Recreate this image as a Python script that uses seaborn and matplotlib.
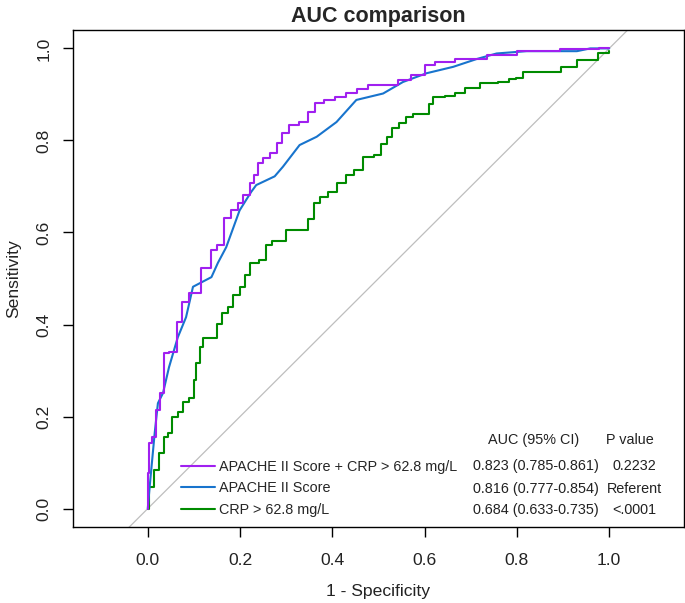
import numpy as np
import pandas as pd
import seaborn as sns
import matplotlib
matplotlib.use("Agg")
import matplotlib.pyplot as plt

# ROC points (1 - specificity, sensitivity)
combo_fpr = [0.0, 0.0, 0.005, 0.015, 0.022, 0.033, 0.036, 0.058, 0.069, 0.080, 0.098, 0.134,
             0.140, 0.159, 0.170, 0.192, 0.199, 0.214, 0.227, 0.232, 0.246, 0.253, 0.275,
             0.286, 0.297, 0.314, 0.340, 0.355, 0.368, 0.394, 0.416, 0.441, 0.466, 0.488,
             0.531, 0.553, 0.590, 0.611, 0.633, 0.698, 0.774, 0.828, 0.959, 0.998, 1.0]
combo_tpr = [0.0, 0.077, 0.142, 0.155, 0.214, 0.251, 0.338, 0.340, 0.405, 0.449, 0.468, 0.523,
             0.562, 0.572, 0.631, 0.648, 0.664, 0.681, 0.707, 0.725, 0.751, 0.762, 0.772,
             0.794, 0.816, 0.833, 0.840, 0.861, 0.881, 0.888, 0.894, 0.903, 0.912, 0.920,
             0.920, 0.931, 0.942, 0.964, 0.970, 0.978, 0.985, 0.994, 0.999, 1.0, 1.0]

apache_fpr = [0.0, 0.004, 0.015, 0.022, 0.033, 0.046, 0.065, 0.083, 0.098, 0.138, 0.152, 0.170,
              0.199, 0.224, 0.235, 0.275, 0.293, 0.329, 0.366, 0.409, 0.452, 0.510, 0.553,
              0.604, 0.662, 0.713, 0.756, 0.821, 0.930, 0.959, 1.0]
apache_tpr = [0.0, 0.046, 0.164, 0.229, 0.251, 0.307, 0.372, 0.416, 0.482, 0.503, 0.534, 0.568,
              0.648, 0.688, 0.703, 0.722, 0.743, 0.790, 0.808, 0.840, 0.888, 0.902, 0.927,
              0.946, 0.960, 0.977, 0.989, 0.994, 0.994, 1.0, 1.0]

crp_fpr = [0.0, 0.007, 0.018, 0.029, 0.040, 0.047, 0.058, 0.073, 0.080, 0.098, 0.101, 0.109,
           0.116, 0.123, 0.148, 0.152, 0.170, 0.177, 0.192, 0.206, 0.217, 0.228, 0.253, 0.260,
           0.279, 0.318, 0.340, 0.355, 0.366, 0.380, 0.402, 0.420, 0.438, 0.456, 0.478, 0.503,
           0.510, 0.525, 0.535, 0.554, 0.564, 0.586, 0.608, 0.611, 0.626, 0.662, 0.669, 0.705,
           0.735, 0.781, 0.785, 0.810, 0.818, 0.883, 0.908, 0.952, 0.998, 1.0]
crp_tpr = [0.0, 0.047, 0.083, 0.120, 0.156, 0.164, 0.199, 0.210, 0.232, 0.240, 0.279, 0.316,
           0.351, 0.370, 0.370, 0.402, 0.424, 0.438, 0.464, 0.482, 0.507, 0.533, 0.540, 0.572,
           0.581, 0.605, 0.605, 0.630, 0.663, 0.677, 0.688, 0.707, 0.725, 0.735, 0.764, 0.768,
           0.793, 0.808, 0.826, 0.837, 0.850, 0.857, 0.857, 0.880, 0.895, 0.896, 0.904, 0.913,
           0.925, 0.928, 0.933, 0.935, 0.948, 0.949, 0.960, 0.975, 0.991, 0.995]

labels = ['APACHE II Score + CRP > 62.8 mg/L', 'APACHE II Score', 'CRP > 62.8 mg/L']
auc_text = ['0.823 (0.785-0.861)', '0.816 (0.777-0.854)', '0.684 (0.633-0.735)']
p_text = ['0.2232', 'Referent', '<.0001']
colors = ['#A020F0', '#1874CD', '#008B00']
styles = ['steps-mid', 'default', 'steps-mid']

curves = [(combo_fpr, combo_tpr), (apache_fpr, apache_tpr), (crp_fpr, crp_tpr)]

sns.set_theme(style="white")
plt.rcParams['font.family'] = ['Liberation Sans', 'DejaVu Sans']

fig = plt.figure(figsize=(6.85, 6.03), dpi=100)
ax = fig.add_axes([73 / 685, 1 - 527 / 603, (684 - 73) / 685, (527 - 30) / 603])

# chance line
ax.plot([-0.2, 1.2], [-0.2, 1.2], color='#BEBEBE', lw=0.9, zorder=1)

# draw in reverse so purple sits on top
for (fpr, tpr), lab, col, ds in list(zip(curves, labels, colors, styles))[::-1]:
    df = pd.DataFrame({'fpr': fpr, 'tpr': tpr})
    sns.lineplot(data=df, x='fpr', y='tpr', sort=False, estimator=None,
                 color=col, lw=1.5, ax=ax, label=lab, drawstyle=ds, zorder=3)

ax.set_xlim(-0.162, 1.162)
ax.set_ylim(-0.04, 1.04)
ax.set_xticks([0.0, 0.2, 0.4, 0.6, 0.8, 1.0])
ax.set_yticks([0.0, 0.2, 0.4, 0.6, 0.8, 1.0])
ax.set_xticklabels([f'{v:.1f}' for v in ax.get_xticks()])
ax.set_yticklabels([f'{v:.1f}' for v in ax.get_yticks()], rotation=90, va='center')
ax.tick_params(axis='both', direction='out', length=7.5, width=1, color='black',
               labelsize=12.6, labelcolor='#222222', pad=11, bottom=True, left=True)
ax.tick_params(axis='y', pad=8)

for s in ax.spines.values():
    s.set_color('black')
    s.set_linewidth(1.0)

ax.set_xlabel('1 - Specificity', fontsize=12.6, labelpad=12, color='#222222')
ax.set_ylabel('Sensitivity', fontsize=12.6, labelpad=11, color='#222222')
ax.set_title('AUC comparison', fontsize=15.5, fontweight='bold', pad=6)

# legend with AUC table
handles, labs = ax.get_legend_handles_labels()
handles, labs = handles[::-1], labs[::-1]
ax.legend(handles, labs, loc='upper left', bbox_to_anchor=(0.071, 0.106),
          bbox_transform=ax.transData, frameon=False, fontsize=10.4,
          handlelength=2.4, handletextpad=0.25, labelspacing=0.52,
          borderpad=0, borderaxespad=0)

ax.text(0.837, 0.148, 'AUC (95% CI)', ha='center', va='center', fontsize=10.4, color='#222222')
ax.text(1.045, 0.148, 'P value', ha='center', va='center', fontsize=10.4, color='#222222')
for yy, a, p in zip([0.092, 0.042, -0.002], auc_text, p_text):
    ax.text(0.977, yy, a, ha='right', va='center', fontsize=10.4, color='#222222')
    ax.text(1.055, yy, p, ha='center', va='center', fontsize=10.4, color='#222222')

fig.savefig('out.png', dpi=100)
